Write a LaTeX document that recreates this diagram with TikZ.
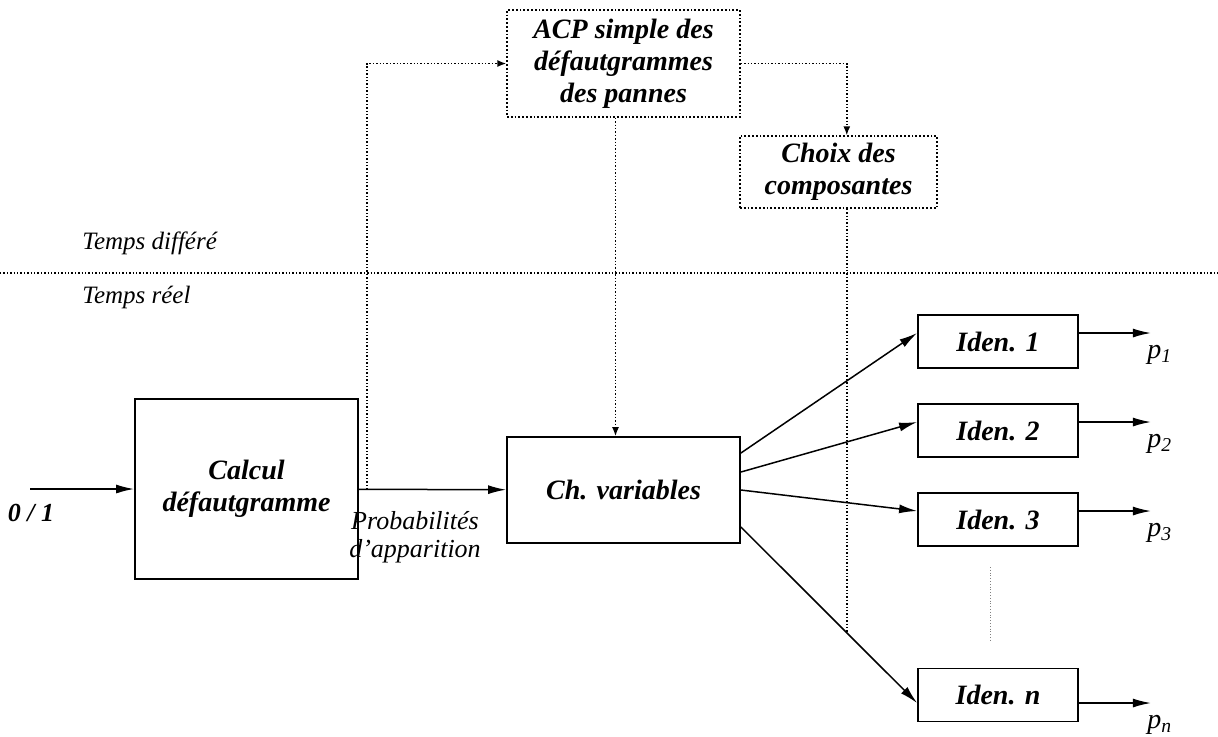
\documentclass[tikz,border=0pt]{standalone}
\usepackage{fontspec}
\setmainfont{Liberation Serif}
\usetikzlibrary{arrows.meta,positioning,calc}

\begin{document}
\begin{tikzpicture}[x=0.5pt, y=-0.5pt, every node/.style={font=\fontsize{12.5}{14}\selectfont\itshape},
    blk/.style={draw, line width=0.9pt, font=\fontsize{14}{16}\selectfont\bfseries\itshape, align=center, inner sep=0pt},
    dblk/.style={blk, densely dotted, line width=0.7pt},
    arr/.style={-{Latex[length=9pt,width=4.5pt]}, line width=0.75pt},
    darr/.style={densely dotted, line width=0.7pt, -{Latex[length=4.5pt,width=3.5pt]}}]
  \useasboundingbox (0,0) rectangle (1218,736);
  % blocs
  \node[blk, minimum width=111.5pt, minimum height=90pt] (calc) at (246.5,489) {Calcul\\d\'efautgramme};
  \node[blk, minimum width=116.5pt, minimum height=53pt] (chvar) at (623.5,490) {Ch. variables};
  \node[dblk, minimum width=116.5pt, minimum height=53.5pt] (acp) at (623.5,63.5) {ACP simple des\\d\'efautgrammes\\des pannes};
  \node[dblk, minimum width=98.5pt, minimum height=36pt] (choix) at (838.5,172) {Choix des\\composantes};
  % temps differe / reel
  \coordinate (sepL) at (0,273);
  \coordinate (sepR) at (1218,273);
  \draw[densely dotted, line width=0.7pt] (sepL) -- (sepR);
  \node[anchor=west, inner sep=0pt] (tdiff) at (82,243) {Temps diff\'er\'e};
  \node[anchor=west, inner sep=0pt] (treel) at (82,297) {Temps r\'eel};
  % entree
  \coordinate (in) at (30,489);
  \draw[arr] (in) -- (calc.west);
  \node[font=\fontsize{13}{15}\selectfont\bfseries\itshape] (bin) at (31,513) {0 / 1};
  \draw[arr] (calc) -- coordinate[pos=0.054] (tap) (chvar);
  \node[align=center, font=\fontsize{13}{14}\selectfont\itshape] (prob) at (415,537) {Probabilit\'es\\d'apparition};
  % identificateurs
  \foreach \k/\yc/\s/\t in {1/341.5/18.5/4.25, 2/430.5/9/4.25, 3/519.5/0/4.25, n/695/-18.5/-4}{
    \node[blk, minimum width=80pt, minimum height=26.5pt] (iden\k) at (998,\yc) {Iden. \k};
    \draw[arr] ([yshift=\s pt]chvar.east) -- coordinate[pos=0.601] (cut\k) ([yshift=\t pt]iden\k.west);
    \draw[arr] ([yshift=\t pt]iden\k.east) -- ++(36pt,0) coordinate (out\k);
    \node[anchor=north west, inner sep=1pt, xshift=-3pt, yshift=-5pt, font=\fontsize{14}{16}\selectfont\itshape] (p\k) at (out\k) {p\textsubscript{\k}};
  }
  \coordinate (dotA) at (990,567);
  \coordinate (dotB) at (990,640);
  \draw[densely dotted, line width=0.4pt, gray] (dotA) -- (dotB);
  % liaisons temps differe
  \draw[darr] (tap) |- (acp.west);
  \draw[darr] (acp.east) -| (choix.north -| cut3);
  \draw[darr] ([xshift=-4pt]acp.south) -- ([xshift=-4pt]chvar.north);
  \draw[densely dotted, line width=0.7pt] (choix.south -| cut3) -- (cutn);
\end{tikzpicture}
\end{document}
